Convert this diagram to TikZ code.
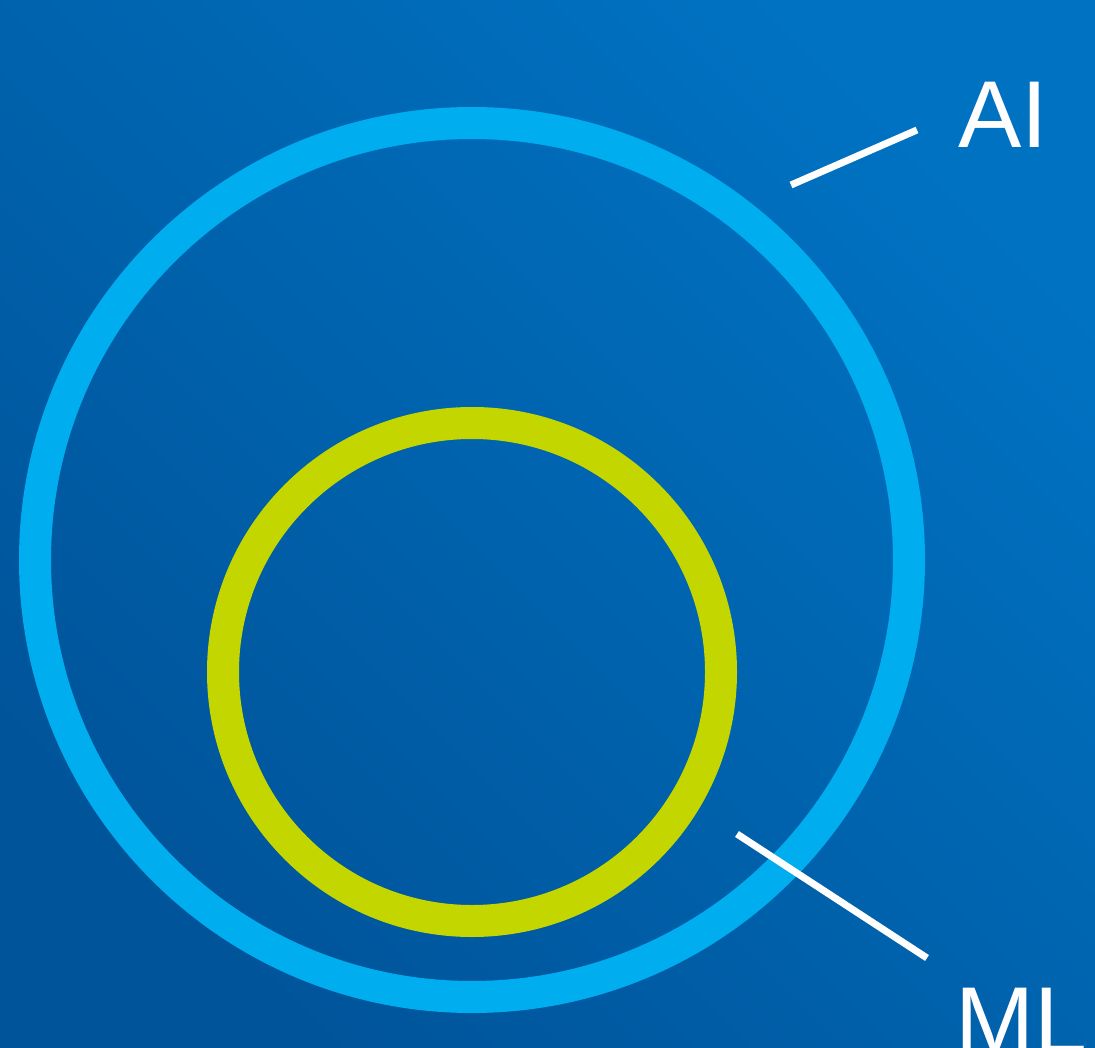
\documentclass[tikz,border=0pt]{standalone}
\usepackage{fontspec}
\setmainfont{Liberation Sans}
\definecolor{bgdark}{RGB}{0,84,154}
\definecolor{bglight}{RGB}{0,114,194}
\definecolor{aiblue}{RGB}{0,173,239}
\definecolor{mlgreen}{RGB}{196,214,0}
\tikzset{
  ring/.style={circle, draw=#1, line width=32pt, inner sep=0pt, fill=none},
  leader/.style={draw=white, line width=7pt},
  lbl/.style={text=white, font=\fontsize{95}{95}\selectfont, inner sep=0pt, anchor=base west}
}
\begin{document}
\begin{tikzpicture}[x=1pt,y=-1pt]
\useasboundingbox (0,0) rectangle (1095,1048);
\clip (0,0) rectangle (1095,1048);
\shade[bottom color=bgdark, top color=bglight, shading angle=-45] (0,0) rectangle (1095,1048);
\node[ring=aiblue, minimum size=874pt] (ai) at (472,560) {};
\node[ring=mlgreen, minimum size=498pt] (ml) at (472,672) {};
\coordinate (ai1) at (791,185);
\coordinate (ai2) at (917,130);
\coordinate (ml1) at (737,834);
\coordinate (ml2) at (927,958);
\draw[leader] (ai1) -- (ai2);
\draw[leader] (ml1) -- (ml2);
\node[lbl] (ailbl) at (958,148) {AI};
\node[lbl] (mllbl) at (955,1053) {ML};
\end{tikzpicture}
\end{document}
